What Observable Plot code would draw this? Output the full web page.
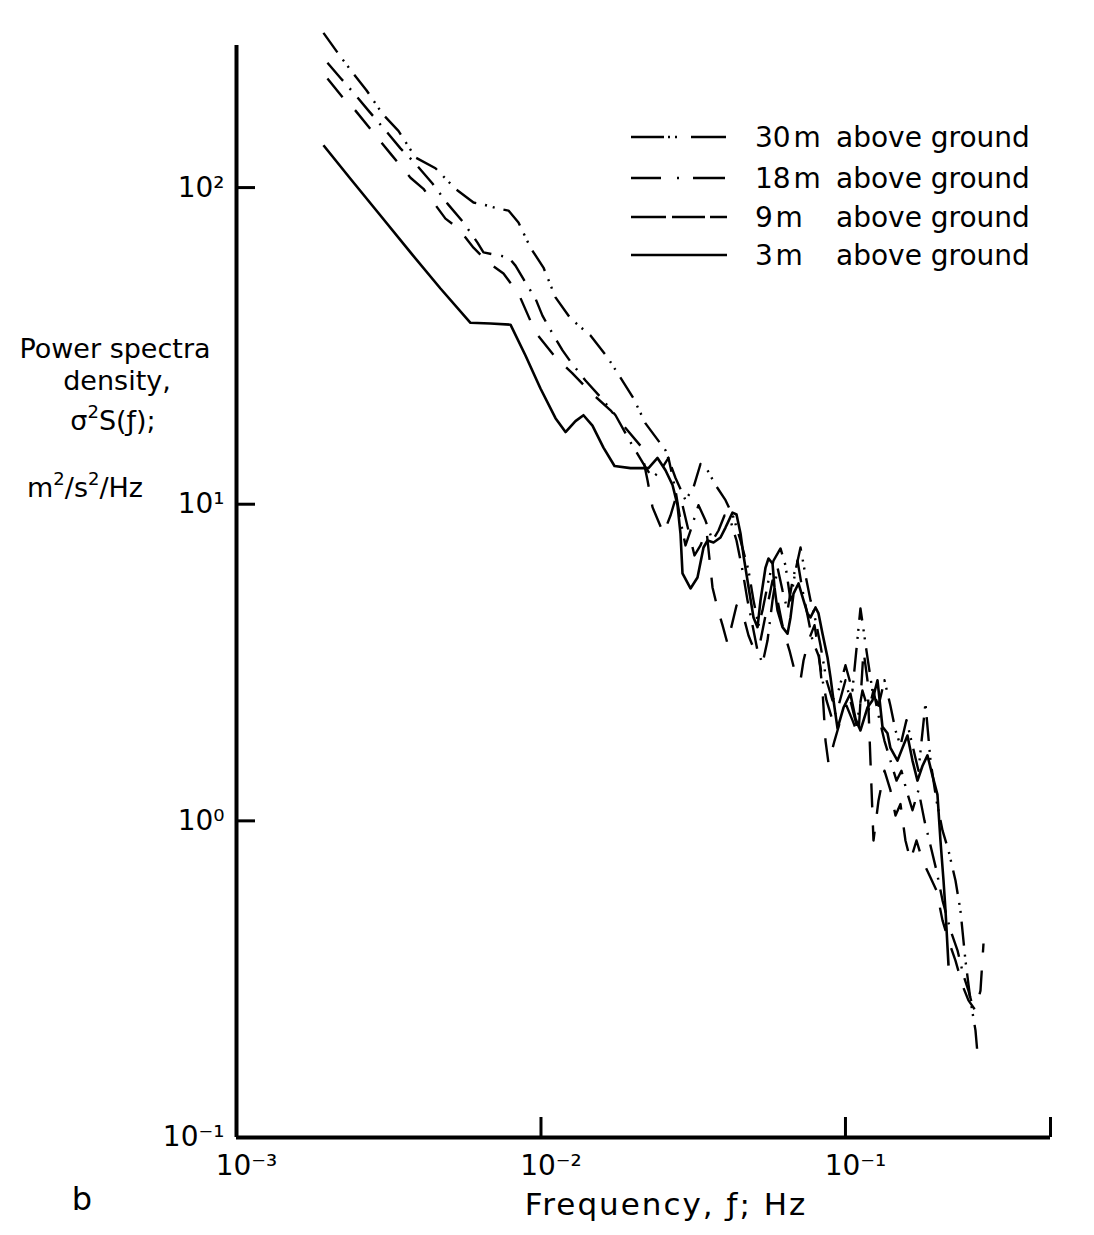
<!DOCTYPE html>
<html>
<head>
<meta charset="utf-8">
<script src="https://cdn.jsdelivr.net/npm/d3@7"></script>
<script src="https://cdn.jsdelivr.net/npm/@observablehq/plot@0.6"></script>
<style>
  html, body { margin: 0; padding: 0; background: #fff; }
  #figure { position: relative; width: 1094px; height: 1235px; font-family: "DejaVu Sans", sans-serif; }
  #figure svg.overlay { position: absolute; left: 0; top: 0; pointer-events: none; }
</style>
</head>
<body>
<div id="figure"></div>
<script>
// Wind-speed power spectra at four heights above ground (log–log).
// Frequency f in Hz, spectral density σ²S(f) in m²/s²/Hz.

const f30 = [0.00193,0.002146,0.002403,0.002672,0.003016,0.003403,0.00387,0.004502,0.005238,0.006002,0.006473,0.007196,0.007821,0.008435,0.009236,0.01019,0.01116,0.0125,0.01454,0.01654,0.01824,0.02013,0.02204,0.02564,0.02766,0.02983,0.03169,0.03341,0.03523,0.03743,0.04037,0.04289,0.04522,0.04804,0.04989,0.05181,0.0534,0.05588,0.05804,0.06119,0.06355,0.066,0.06854,0.07118,0.07392,0.07677,0.07973,0.08281,0.08665,0.09067,0.09488,0.1,0.1054,0.112,0.1172,0.1226,0.1284,0.1343,0.1405,0.146,0.1516,0.1586,0.166,0.1737,0.1831,0.1902,0.199,0.2083,0.218,0.2298,0.2386,0.2478,0.2574,0.2673,0.2714];
const psd30 = [308,267,231,203,171,151,124.5,115.1,99.1,89.7,88.4,85.9,84.6,77.6,64.6,55.9,45.0,38.6,34.1,29.1,25.1,21.6,18.0,14.8,12.1,10.3,11.3,13.4,12.8,11.5,10.3,9.08,7.68,6.18,4.97,4.15,4.62,5.74,6.64,7.25,6.40,4.97,6.18,7.30,5.96,4.97,4.30,3.58,2.78,2.40,2.58,3.10,2.58,4.69,3.45,2.58,2.31,2.78,2.31,1.93,1.73,2.08,1.73,1.44,2.35,1.55,1.16,0.933,0.806,0.648,0.521,0.362,0.271,0.218,0.184];

const f18 = [0.001989,0.002195,0.002459,0.002713,0.003132,0.003455,0.00387,0.004402,0.00493,0.005565,0.006186,0.006473,0.007821,0.008246,0.008894,0.009593,0.01011,0.01091,0.01177,0.01264,0.014,0.01568,0.01757,0.01968,0.02171,0.02324,0.02469,0.02623,0.02766,0.02872,0.02983,0.03098,0.03291,0.0347,0.03659,0.03829,0.04006,0.04192,0.04387,0.0459,0.04767,0.04951,0.05142,0.0534,0.05546,0.0576,0.05982,0.06212,0.06452,0.067,0.06958,0.07227,0.07562,0.07794,0.08156,0.08407,0.08665,0.09067,0.09488,0.1,0.1038,0.1087,0.1137,0.119,0.1236,0.1284,0.1343,0.1405,0.1471,0.1527,0.1586,0.166,0.1737,0.1818,0.1902,0.199,0.2083,0.2213,0.2333,0.2441,0.2535,0.2613];
const psd18 = [248,222,196,175,149,133,119,103,89.0,77.6,67.0,62.4,60.2,56.7,50.2,44.6,39.4,34.6,30.6,27.8,24.6,21.8,19.1,15.7,13.4,12.1,12.8,14.0,11.05,8.88,7.41,8.26,9.93,8.88,7.68,8.26,9.21,8.88,7.68,6.18,4.97,4.15,3.45,3.14,3.71,4.97,6.31,5.34,4.62,5.74,6.64,5.34,4.30,3.71,3.33,2.78,2.40,2.08,2.31,2.78,2.40,2.01,2.58,2.23,2.58,2.15,1.79,1.55,1.34,1.44,1.25,1.08,1.25,1.00,0.836,0.697,0.561,0.451,0.390,0.325,0.291,0.261];

const f9 = [0.001989,0.002245,0.002459,0.002926,0.003204,0.003727,0.004112,0.004856,0.005358,0.006002,0.006723,0.007531,0.008435,0.009593,0.01116,0.01264,0.01454,0.01692,0.01895,0.02122,0.02238,0.02324,0.02526,0.02663,0.02787,0.02916,0.03051,0.03193,0.03341,0.03496,0.03659,0.038,0.03946,0.04098,0.04192,0.04387,0.0459,0.04804,0.05027,0.0526,0.05504,0.0576,0.05982,0.06259,0.0655,0.06802,0.07118,0.07282,0.07562,0.07913,0.08156,0.08407,0.086,0.08797,0.09205,0.09633,0.1008,0.1054,0.1103,0.1146,0.1181,0.1208,0.1236,0.1284,0.1343,0.1405,0.146,0.1516,0.1574,0.1635,0.1711,0.179,0.1902,0.199,0.2083,0.218,0.2298,0.2423,0.2535,0.2673,0.2776,0.284];
const psd9 = [221,191.5,175,142.5,128,107.4,99.1,79.8,74.3,64.6,57.9,53.5,46.3,34.9,29.1,26.0,22.6,19.8,17.4,15.3,11.9,9.79,8.08,9.21,10.66,9.93,8.26,6.89,7.41,8.26,5.46,4.69,4.15,3.63,3.99,4.79,4.55,3.85,3.45,3.71,4.62,5.74,4.97,3.99,3.45,2.99,2.78,3.21,3.71,4.15,3.45,2.58,1.79,1.52,1.79,2.08,2.31,2.08,1.86,3.45,2.78,1.55,0.867,1.16,1.44,1.25,1.04,1.13,0.867,0.750,0.867,0.750,0.662,0.603,0.485,0.419,0.362,0.302,0.271,0.252,0.291,0.410];

const f3 = [0.00193,0.002367,0.00297,0.003727,0.004676,0.005867,0.006825,0.00794,0.008894,0.009962,0.01116,0.01204,0.01298,0.01379,0.01476,0.01604,0.01744,0.01968,0.02255,0.02414,0.02564,0.02704,0.02808,0.02872,0.02916,0.03098,0.03266,0.03418,0.03523,0.03687,0.03887,0.04037,0.04256,0.04387,0.04522,0.04625,0.04767,0.04989,0.05142,0.0526,0.05463,0.05588,0.0576,0.05847,0.05982,0.06212,0.06452,0.066,0.06751,0.07011,0.07282,0.07505,0.07677,0.07973,0.08156,0.08407,0.08731,0.08931,0.09136,0.09417,0.09854,0.1038,0.1079,0.112,0.1181,0.1226,0.1274,0.1323,0.1374,0.1405,0.1482,0.1539,0.1598,0.166,0.1724,0.179,0.1859,0.1931,0.2005,0.2051,0.2099,0.2131,0.218];
const psd3 = [136.0,106.6,81.6,62.4,48.0,37.4,37.2,36.9,29.5,23.2,18.7,16.9,18.3,19.1,17.7,15.1,13.2,13.0,13.0,14.0,12.8,11.5,9.93,8.08,6.05,5.42,5.87,7.30,7.68,7.57,7.85,8.44,9.41,9.28,8.08,6.89,5.74,4.39,4.09,4.97,6.31,6.74,6.50,5.46,4.62,4.09,3.90,4.39,5.22,5.62,4.97,4.52,4.39,4.72,4.52,3.90,3.28,2.84,2.40,1.96,2.28,2.52,2.10,1.93,2.28,2.40,2.78,1.98,1.89,1.70,1.55,1.70,1.86,1.55,1.34,1.49,1.61,1.39,1.21,0.867,0.648,0.521,0.349];

const heights = ["30 m", "18 m", "9 m", "3 m"];

const xDomain = [0.001, 0.4714];
const yDomain = [0.1, 281];
const xTicks = [0.001, 0.01, 0.1, 0.4714];
const xTickLabels = ["10⁻³", "10⁻²", "10⁻¹", ""];
const yTicks = [0.1, 1, 10, 100];
const yTickLabels = ["10⁻¹", "10⁰", "10¹", "10²"];

// Line style for each height: chart pattern and legend-sample pattern.
const styles = {
  "30 m": {dash: "24,9,2,6,2,9", legendDash: "33,4,2,5,2,14,35", width: 2.4},
  "18 m": {dash: "24,10,2,10", legendDash: "30,16,2,14,32", width: 2.4},
  "9 m":  {dash: "24,18", legendDash: "35,6,33,5,18", width: 2.4},
  "3 m":  {dash: null, legendDash: null, width: 2.6}
};

const freqs = [f30, f18, f9, f3];
const psds = [psd30, psd18, psd9, psd3];
const rows = heights.flatMap((h, k) => freqs[k].map((f, i) => ({height: h, f, s: psds[k][i]})));

const lineMarks = heights.map(h => Plot.line(rows.filter(r => r.height === h), {
  x: "f", y: "s",
  stroke: "black",
  strokeWidth: styles[h].width,
  strokeDasharray: styles[h].dash,
  strokeLinejoin: "round",
  strokeLinecap: "butt"
}));

const chart = Plot.plot({
  width: 1094,
  height: 1235,
  marginLeft: 236,
  marginRight: 44,
  marginTop: 45,
  marginBottom: 98,
  x: {type: "log", domain: xDomain, label: null},
  y: {type: "log", domain: yDomain, label: null},
  style: {fontFamily: "DejaVu Sans", fontSize: "28px", color: "black", background: "white", overflow: "visible"},
  marks: [
    ...lineMarks,
    Plot.axisY(yTicks, {tickSize: -19, strokeWidth: 3, tickFormat: () => ""}),
    Plot.axisY(yTicks, {tickSize: 0, tickPadding: 12, fontSize: 28,
      tickFormat: d => yTickLabels[yTicks.indexOf(d)]}),
    Plot.axisX(xTicks, {tickSize: -20, strokeWidth: 3, tickFormat: () => ""}),
    Plot.axisX(xTicks, {tickSize: 0, tickPadding: 18, fontSize: 28, dx: 10,
      tickFormat: d => xTickLabels[xTicks.indexOf(d)]}),
    Plot.ruleX([xDomain[0]], {strokeWidth: 4}),
    Plot.ruleY([yDomain[0]], {strokeWidth: 4})
  ]
});

const fig = document.getElementById("figure");
fig.appendChild(chart);

// Overlay: axis titles, panel letter and legend.
const ov = d3.select(fig).append("svg")
  .attr("class", "overlay")
  .attr("width", 1094).attr("height", 1235)
  .attr("font-family", "DejaVu Sans")
  .attr("fill", "black");

const yl = ov.append("g").attr("font-size", 27).attr("text-anchor", "middle");
yl.append("text").attr("x", 115).attr("y", 358).text("Power spectra");
yl.append("text").attr("x", 117).attr("y", 390).text("density,");
const t3 = yl.append("text").attr("x", 113).attr("y", 430);
t3.append("tspan").text("σ");
t3.append("tspan").attr("dy", -12).attr("font-size", 18).text("2");
t3.append("tspan").attr("dy", 12).text("S(ƒ);");
const t4 = yl.append("text").attr("x", 85).attr("y", 497);
t4.append("tspan").text("m");
t4.append("tspan").attr("dy", -12).attr("font-size", 18).text("2");
t4.append("tspan").attr("dy", 12).text("/s");
t4.append("tspan").attr("dy", -12).attr("font-size", 18).text("2");
t4.append("tspan").attr("dy", 12).text("/Hz");

ov.append("text").attr("x", 666).attr("y", 1215).attr("font-size", 31)
  .attr("text-anchor", "middle").attr("letter-spacing", 2).text("Frequency, ƒ; Hz");
ov.append("text").attr("x", 82).attr("y", 1210).attr("font-size", 32)
  .attr("text-anchor", "middle").text("b");

const legendY = [137, 178, 217, 255];
heights.forEach((h, i) => {
  const g = ov.append("g").attr("transform", `translate(0,${legendY[i]})`);
  g.append("line").attr("x1", 631).attr("x2", 727).attr("y1", 0).attr("y2", 0)
    .attr("stroke", "black").attr("stroke-width", 2.6)
    .attr("stroke-dasharray", styles[h].legendDash);
  g.append("text").attr("x", 755).attr("y", 10).attr("font-size", 28).text(h.replace(" ", "\u200A"));
  g.append("text").attr("x", 836).attr("y", 10).attr("font-size", 28).text("above ground");
});
</script>
</body>
</html>
